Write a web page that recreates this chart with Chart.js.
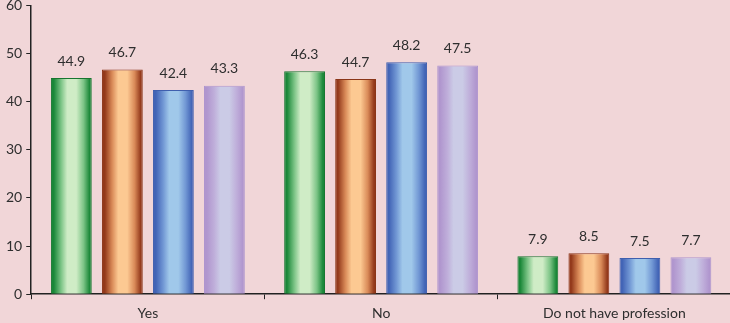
<!DOCTYPE html>
<html>
<head>
<meta charset="utf-8">
<script src="https://cdn.jsdelivr.net/npm/chart.js@4/dist/chart.umd.min.js"></script>
<style>
  html, body { margin: 0; padding: 0; background: #F1D6D8; }
  #wrap { width: 730px; height: 323px; overflow: hidden; position: relative; }
  #myChart { position: absolute; left: 0; top: -7px; }
</style>
</head>
<body>
<div id="wrap"><canvas id="myChart" width="731" height="337"></canvas></div>
<script>
// categorias e valores
const categories = ["Yes", "No", "Do not have profession"];
const serie1 = [44.9, 46.3, 7.9];
const serie2 = [46.7, 44.7, 8.5];
const serie3 = [42.4, 48.2, 7.5];
const serie4 = [43.3, 47.5, 7.7];
const yTicks = [0, 10, 20, 30, 40, 50, 60];

// cores: borda escura / centro claro
const cores = [
  { dark: "#1A8738", mid: "#7CC486", light: "#CFECC6", border: "#17762F" },
  { dark: "#93391B", mid: "#D98A58", light: "#FCC992", border: "#8A3518" },
  { dark: "#4264B6", mid: "#7197D4", light: "#A0C8EA", border: "#3F5FAE" },
  { dark: "#B096CE", mid: "#BFAEDA", light: "#CBCBE6", border: "#AE95CE" },
];

const textColor = "#2E2E2E";
const fonte = "Lato, 'Open Sans', sans-serif";

// gradiente horizontal em cada barra
const gradientPlugin = {
  id: "gradientBars",
  beforeDatasetsDraw(chart) {
    const c = chart.ctx;
    chart.data.datasets.forEach((ds, i) => {
      const meta = chart.getDatasetMeta(i);
      const cor = cores[i];
      meta.data.forEach((bar) => {
        const left = bar.x - bar.width / 2;
        const right = bar.x + bar.width / 2;
        const g = c.createLinearGradient(left, 0, right, 0);
        g.addColorStop(0, cor.dark);
        g.addColorStop(0.07, cor.dark);
        g.addColorStop(0.25, cor.mid);
        g.addColorStop(0.4, cor.light);
        g.addColorStop(0.62, cor.light);
        g.addColorStop(0.8, cor.mid);
        g.addColorStop(0.95, cor.dark);
        g.addColorStop(1, cor.dark);
        bar.options = Object.assign({}, bar.options, { backgroundColor: g });
      });
    });
  },
};

// valores em cima das barras
const labelsPlugin = {
  id: "valueLabels",
  afterDatasetsDraw(chart) {
    const c = chart.ctx;
    c.save();
    c.font = "14px " + fonte;
    c.fillStyle = textColor;
    c.textAlign = "center";
    c.textBaseline = "middle";
    chart.data.datasets.forEach((ds, i) => {
      chart.getDatasetMeta(i).data.forEach((bar, j) => {
        c.fillText(ds.data[j].toFixed(1), bar.x, bar.y - 17);
      });
    });
    c.restore();
  },
};

const series = [serie1, serie2, serie3, serie4];

const ctx = document.getElementById("myChart");
const myChart = new Chart(ctx, {
  type: "bar",
  data: {
    labels: categories,
    datasets: series.map((s, i) => ({
      label: "Series " + (i + 1),
      data: s,
      backgroundColor: cores[i].mid,
      borderColor: cores[i].border,
      borderWidth: 1,
      borderSkipped: "bottom",
      barPercentage: 0.8,
      categoryPercentage: 0.875,
    })),
  },
  options: {
    responsive: false,
    devicePixelRatio: 1,
    animation: false,
    layout: { padding: { left: 2, right: 0, top: 0, bottom: 2 } },
    plugins: {
      legend: { display: false },
      tooltip: { enabled: false },
    },
    scales: {
      x: {
        grid: {
          offset: true,
          drawOnChartArea: false,
          drawTicks: true,
          tickLength: 5,
          color: "#222",
        },
        border: { display: true, color: "#222", width: 1.5 },
        ticks: { color: textColor, font: { family: fonte, size: 14 }, padding: 6 },
      },
      y: {
        min: 0,
        max: 60,
        afterBuildTicks(axis) {
          axis.ticks = yTicks.map((v) => ({ value: v }));
        },
        grid: {
          drawOnChartArea: false,
          drawTicks: true,
          tickLength: 5,
          color: "#222",
        },
        border: { display: true, color: "#222", width: 1.5 },
        ticks: { color: textColor, font: { family: fonte, size: 14 }, padding: 4 },
      },
    },
  },
  plugins: [gradientPlugin, labelsPlugin],
});
</script>
</body>
</html>
